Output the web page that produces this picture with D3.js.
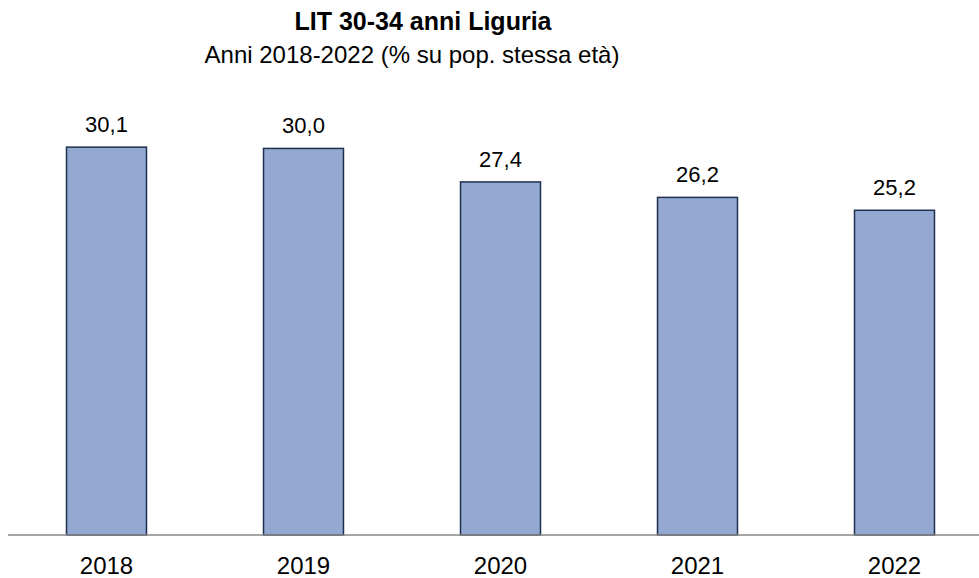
<!DOCTYPE html>
<meta charset="utf-8">
<style>
body { margin: 0; background: #fff; }
text { font-family: "Liberation Sans", Arial, sans-serif; fill: #000; }
</style>
<svg width="979" height="578"></svg>
<script src="https://cdn.jsdelivr.net/npm/d3@7"></script>
<script>

var years = ["2018", "2019", "2020", "2021", "2022"];
var values = [30.1, 30.0, 27.4, 26.2, 25.2];
var title = "LIT 30-34 anni Liguria";
var subtitle = "Anni 2018-2022 (% su pop. stessa età)";

var svg = d3.select("svg"),
    width = +svg.attr("width");

var data = years.map(function(y, i) { return {year: y, value: values[i]}; });

var x = d3.scaleBand()
    .domain(years)
    .range([8, 993])
    .paddingInner(0.594)
    .paddingOuter(0.297);

var y = d3.scaleLinear()
    .domain([0, 35])
    .range([535, 84]);

var fmt = function(v) { return d3.format(".1f")(v).replace(".", ","); };

svg.append("text")
    .attr("x", 423)
    .attr("y", 30)
    .attr("text-anchor", "middle")
    .style("font-weight", "bold")
    .style("font-size", "25px")
    .text(title);

svg.append("text")
    .attr("x", 412)
    .attr("y", 63)
    .attr("text-anchor", "middle")
    .style("font-size", "24px")
    .text(subtitle);

svg.selectAll(".bar")
    .data(data)
  .enter().append("rect")
    .attr("class", "bar")
    .attr("x", function(d) { return x(d.year); })
    .attr("y", function(d) { return y(d.value); })
    .attr("width", x.bandwidth())
    .attr("height", function(d) { return y(0) - y(d.value); })
    .attr("fill", "#94a9d1")
    .attr("stroke", "#1f2f4f")
    .attr("stroke-width", 1.5);

svg.selectAll(".val")
    .data(data)
  .enter().append("text")
    .attr("class", "val")
    .attr("x", function(d) { return x(d.year) + x.bandwidth() / 2; })
    .attr("y", function(d) { return y(d.value) - 15; })
    .attr("text-anchor", "middle")
    .style("font-size", "22px")
    .text(function(d) { return fmt(d.value); });

var axis = svg.append("g")
    .attr("transform", "translate(0," + y(0) + ")")
    .call(d3.axisBottom(x).tickSize(0).tickPadding(22));

axis.select(".domain").remove();
axis.append("line")
    .attr("x1", 8)
    .attr("x2", width)
    .attr("stroke", "#888")
    .attr("stroke-width", 1.5);

axis.selectAll(".tick text")
    .style("font-family", "\"Liberation Sans\", Arial, sans-serif")
    .style("font-size", "24px")
    .attr("fill", "#000");

</script>
